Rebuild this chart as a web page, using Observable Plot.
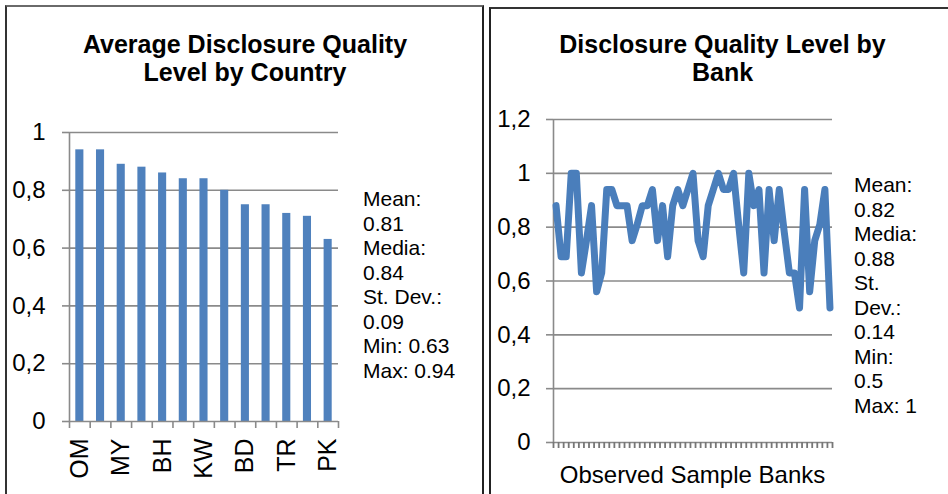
<!DOCTYPE html>
<html><head><meta charset="utf-8">
<script src="https://cdn.jsdelivr.net/npm/d3@7"></script>
<script src="https://cdn.jsdelivr.net/npm/@observablehq/plot@0.6"></script>
<style>
body{margin:0;background:#fff;font-family:"Liberation Sans",Arial,sans-serif;color:#000;}
#wrap{position:relative;width:948px;height:494px;overflow:hidden;}
.panel{position:absolute;border:2px solid #4a4a4a;box-sizing:border-box;}
.chart{position:absolute;top:0;}
.title{position:absolute;font-weight:bold;font-size:25px;line-height:28px;text-align:center;white-space:nowrap;}
.stats{position:absolute;font-size:21px;line-height:24.5px;white-space:nowrap;}
.xtitle{position:absolute;font-size:24px;line-height:24px;text-align:center;white-space:nowrap;}
</style></head><body>
<div id="wrap">
  <div class="panel" style="left:5px;top:5px;width:479px;height:520px;border-color:#6a6a6a #222 #222 #333;"></div>
  <div class="panel" style="left:489px;top:7px;width:480px;height:520px;border-color:#333 #222 #222 #222;"></div>
  <div id="left" class="chart" style="left:0px;"></div>
  <div id="right" class="chart" style="left:480px;"></div>
  <div class="title" style="left:0px;top:30px;width:490px;">Average Disclosure Quality<br>Level by Country</div>
  <div class="title" style="left:480px;top:30px;width:485px;">Disclosure Quality Level by<br>Bank</div>
  <div id="lstats" class="stats" style="left:363px;top:187px;"></div>
  <div id="rstats" class="stats" style="left:854px;top:173px;"></div>
  <div class="xtitle" style="left:553px;top:463px;width:279px;">Observed Sample Banks</div>
</div>
<script>
// Left chart: average disclosure quality by country (only every other label is shown in the original)
const countries = ["OM","QA","MY","AE","BH","SA","KW","JO","BD","ID","TR","EG","PK"];
const countryValues = [0.94,0.94,0.89,0.88,0.86,0.84,0.84,0.80,0.75,0.75,0.72,0.71,0.63];
const leftYTicks = [0,0.2,0.4,0.6,0.8,1];
const leftStats = ["Mean:","0.81","Media:","0.84","St. Dev.:","0.09","Min: 0.63","Max: 0.94"];

// Right chart: disclosure quality by bank
const bankValues = [0.88,0.69,0.69,1.0,1.0,0.63,0.75,0.88,0.56,0.63,
                    0.94,0.94,0.88,0.88,0.88,0.75,0.81,0.88,0.88,0.94,
                    0.75,0.88,0.69,0.88,0.94,0.88,0.94,1.0,0.75,0.69,
                    0.88,0.94,1.0,0.94,0.94,1.0,0.81,0.63,1.0,0.88,
                    0.94,0.63,0.94,0.75,0.94,0.78,0.63,0.63,0.5,0.94,
                    0.56,0.75,0.81,0.94,0.5];
const rightYTicks = [0,0.2,0.4,0.6,0.8,1,1.2];
const rightStats = ["Mean:","0.82","Media:","0.88","St.","Dev.:","0.14","Min:","0.5","Max: 1"];

const grid = "#8a8a8a";
const fmt = d => String(d).replace(".", ",");
const font = '"Liberation Sans", Arial, sans-serif';

const countryData = countries.map((c, i) => ({c, i, v: countryValues[i]}));
const labeled = countryData.filter(d => d.i % 2 === 0).map(d => d.i + 0.5);

const left = Plot.plot({
  width: 480, height: 494,
  marginLeft: 69, marginRight: 142, marginTop: 132, marginBottom: 73,
  x: {domain: [0, countries.length], label: null},
  y: {domain: [0, 1], label: null},
  style: {fontFamily: font, fontSize: "24px", background: "transparent", color: "#000", overflow: "visible"},
  marks: [
    Plot.ruleY(leftYTicks.filter(d => d > 0), {stroke: grid, strokeWidth: 1.6}),
    Plot.rectY(countryData, {x1: d => d.i, x2: d => d.i + 1, y: "v", insetLeft: 6.3, insetRight: 6.3, fill: "#4f81bd"}),
    Plot.ruleX([0], {stroke: grid, strokeWidth: 1.6}),
    Plot.ruleY([0], {stroke: grid, strokeWidth: 1.6}),
    Plot.axisY({ticks: leftYTicks, label: null, tickSize: 7, tickPadding: 17, tickFormat: fmt, stroke: grid, strokeWidth: 1.6, fill: "#000", fontSize: 24}),
    Plot.axisX({ticks: d3.range(countries.length + 1), label: null, tickSize: 7, tickFormat: () => "", stroke: grid, strokeWidth: 1.6}),
    Plot.axisX({ticks: labeled, label: null, tickSize: 0, tickPadding: 17, tickRotate: -90, tickFormat: d => countries[Math.floor(d)], fill: "#000", fontSize: 25})
  ]
});
document.getElementById("left").appendChild(left);

const right = Plot.plot({
  width: 468, height: 494,
  marginLeft: 73, marginRight: 116, marginTop: 119, marginBottom: 52,
  x: {domain: [0, bankValues.length], label: null},
  y: {domain: [0, 1.2], label: null},
  style: {fontFamily: font, fontSize: "24px", background: "transparent", color: "#000", overflow: "visible"},
  marks: [
    Plot.ruleY(rightYTicks.filter(d => d > 0), {stroke: grid, strokeWidth: 1.6}),
    Plot.ruleX([0], {stroke: grid, strokeWidth: 1.6}),
    Plot.ruleY([0], {stroke: grid, strokeWidth: 1.6}),
    Plot.line(bankValues.map((v, i) => ({i: i + 0.5, v})), {x: "i", y: "v", stroke: "#4a7ebb", strokeWidth: 7, strokeLinejoin: "round", strokeLinecap: "round"}),
    Plot.axisY({ticks: rightYTicks, label: null, tickSize: 7, tickPadding: 16, tickFormat: fmt, stroke: grid, strokeWidth: 1.6, fill: "#000", fontSize: 24}),
    Plot.axisX({ticks: d3.range(bankValues.length + 1), label: null, tickSize: 6, tickFormat: () => "", stroke: "#777", strokeWidth: 1.8})
  ]
});
document.getElementById("right").appendChild(right);

document.getElementById("lstats").innerHTML = leftStats.join("<br>");
document.getElementById("rstats").innerHTML = rightStats.join("<br>");
</script>
</body></html>
